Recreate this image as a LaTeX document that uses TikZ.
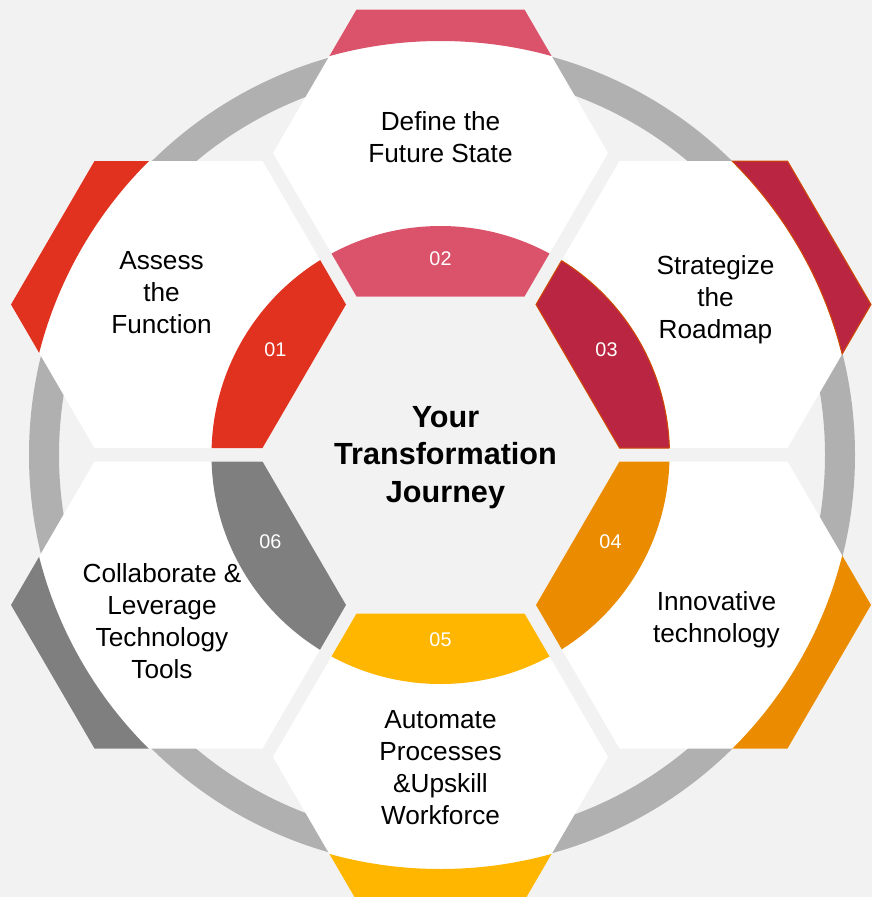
\documentclass[tikz,border=0pt]{standalone}
\usepackage{fontspec}
\setmainfont{Liberation Sans}
\definecolor{bg}{HTML}{F2F2F2}
\definecolor{ringgray}{HTML}{B0B0B0}
\definecolor{cRed}{HTML}{E0321E}
\definecolor{cRose}{HTML}{DB536A}
\definecolor{cCrim}{HTML}{BA2641}
\definecolor{cOrange}{HTML}{EB8C00}
\definecolor{cYellow}{HTML}{FFB600}
\definecolor{cGray}{HTML}{7F7F7F}
\definecolor{cEdge}{HTML}{D04A02}
\tikzset{
  hexat/.style={insert path={(#1) ++(167.5,0) -- ++(-83.5,143.5) -- ++(-168,0) -- ++(-83.5,-143.5) -- ++(83.5,-143.5) -- ++(168,0) -- cycle}},
  lbl/.style={font=\fontsize{26.2}{32}\selectfont, align=center, anchor=base, text=black, inner sep=0pt},
  num/.style={font=\fontsize{19.8}{20}\selectfont, text=white, anchor=base, inner sep=0pt},
  ttl/.style={font=\fontsize{30.6}{37.5}\selectfont\bfseries, align=center, anchor=base, text=black, inner sep=0pt}
}
\begin{document}
\begin{tikzpicture}[x=1pt,y=-1pt]
\useasboundingbox (0,0) rectangle (872,897);
\fill[bg] (0,0) rectangle (872,897);
\coordinate (C) at (440.5,455);
\coordinate (R) at (442,455);
\coordinate (hT) at (440.5,153);
\coordinate (hB) at (440.5,757);
\coordinate (hUL) at (178.5,304.5);
\coordinate (hUR) at (703.5,304.5);
\coordinate (hLL) at (178.5,605);
\coordinate (hLR) at (703.5,605);
% gray ring
\fill[ringgray, even odd rule] (R) circle[radius=413pt] (R) circle[radius=383pt];
% hexagons with inner pieces and outer tabs
\foreach \h/\c in {hT/cRose, hB/cYellow, hUL/cRed, hLL/cGray, hLR/cOrange, hUR/cCrim}{
  \fill[white, hexat=\h];
  \begin{scope}
    \path[clip, hexat=\h];
    \fill[\c] (C) circle[radius=229pt];
    \fill[\c, even odd rule] (C) circle[radius=414pt] (-20,-20) rectangle (900,920);
  \end{scope}
}
% thin outline on the crimson pieces
\begin{scope}
  \path[clip, hexat=hUR];
  \draw[cEdge, line width=1pt] (C) circle[radius=229pt];
  \draw[cEdge, line width=1pt] (C) circle[radius=414pt];
\end{scope}
\begin{scope}
  \clip (C) circle[radius=229pt];
  \draw[cEdge, line width=1pt, hexat=hUR];
\end{scope}
\begin{scope}[even odd rule]
  \clip (C) circle[radius=414pt] (-20,-20) rectangle (900,920);
  \draw[cEdge, line width=1pt, hexat=hUR];
\end{scope}
% texts (anchor at the baseline of the last line)
\node[lbl] (t2) at (440.5,162.5) {Define the\\Future State};
\node[lbl] (t1) at (161.5,333) {Assess\\the\\Function};
\node[lbl] (t3) at (715.5,338.5) {Strategize\\the\\Roadmap};
\node[lbl] (t4) at (716.5,642.5) {Innovative\\technology};
\node[lbl] (t5) at (440.5,824) {Automate\\Processes\\\&Upskill\\Workforce};
\node[lbl] (t6) at (162,678) {Collaborate \&\\Leverage\\Technology\\Tools};
\node[num] (n2) at (440.5,265.5) {02};
\node[num] (n1) at (275.5,356) {01};
\node[num] (n3) at (606.5,356) {03};
\node[num] (n4) at (610.5,548) {04};
\node[num] (n5) at (440.5,646.5) {05};
\node[num] (n6) at (270.5,548) {06};
\node[ttl] (title) at (445.5,502) {Your\\Transformation\\Journey};
\end{tikzpicture}
\end{document}
